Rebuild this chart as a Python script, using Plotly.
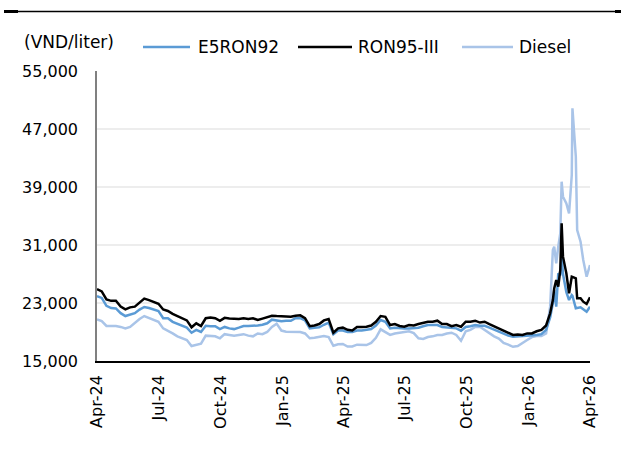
import pandas as pd
import plotly.graph_objects as go

# ---- data (VND/liter) ----
weekly_start = "2024-04-01"
weekly_count = 96
spike_dates = ["2026-02-01", "2026-02-05", "2026-02-07", "2026-02-10", "2026-02-13",
               "2026-02-16", "2026-02-18", "2026-02-20", "2026-02-25", "2026-03-01",
               "2026-03-05", "2026-03-06", "2026-03-11", "2026-03-13", "2026-03-18",
               "2026-03-22", "2026-03-27", "2026-04-01"]

e5ron92_weekly = [23950, 23700, 22600, 22300, 22250, 21600, 21200, 21400, 21600, 22100,
                  22450, 22300, 22100, 21900, 20900, 20900, 20400, 20100, 19900, 19600,
                  18900, 19300, 19000, 19850, 19800, 19800, 19400, 19700, 19500, 19400,
                  19600, 19830, 19830, 19830, 19900, 20000, 20200, 20700, 20600, 20500,
                  20550, 20550, 20900, 20900, 20600, 19500, 19600, 19650, 20000, 20300,
                  18700, 19200, 19200, 19000, 19000, 19200, 19200, 19300, 19400, 19900,
                  20650, 20400, 19500, 19600, 19500, 19500, 19500, 19550, 19600, 19800,
                  19960, 19950, 19960, 19700, 19600, 19500, 19500, 19180, 19700, 19800,
                  19960, 19850, 19850, 19600, 19300, 19000, 18800, 18500, 18350, 18400,
                  18350, 18450, 18500, 18600, 18700, 19300]
ron95_weekly = [24900, 24600, 23500, 23300, 23300, 22500, 22130, 22400, 22500, 23100,
                23600, 23400, 23200, 22900, 22100, 21900, 21500, 21200, 21000, 20600,
                19650, 20200, 19830, 20900, 21000, 20900, 20550, 20950, 20850, 20800,
                20800, 20900, 20800, 20900, 20650, 20850, 21000, 21250, 21200, 21150,
                21100, 21100, 21250, 21300, 20900, 19800, 19900, 20100, 20600, 20800,
                18900, 19500, 19600, 19300, 19200, 19700, 19700, 19730, 19900, 20400,
                21200, 21100, 19960, 20100, 19830, 19730, 19960, 19900, 20100, 20300,
                20420, 20420, 20560, 20100, 20100, 19800, 19960, 19730, 20420, 20420,
                20560, 20300, 20420, 20100, 19800, 19500, 19180, 18810, 18590, 18650,
                18590, 18810, 18800, 19100, 19300, 19900]
diesel_weekly = [20750, 20500, 19830, 19830, 19830, 19700, 19500, 19700, 20300, 20800,
                 21200, 20900, 20700, 20400, 19500, 19200, 18800, 18400, 18200, 17900,
                 17070, 17200, 17400, 18500, 18400, 18400, 18130, 18700, 18600, 18500,
                 18600, 18700, 18500, 18400, 18800, 18700, 19000, 19700, 20150, 19200,
                 19050, 19050, 19050, 19000, 18800, 18130, 18200, 18300, 18450, 18300,
                 17100, 17300, 17350, 17000, 17000, 17250, 17250, 17200, 17500, 18200,
                 19370, 19000, 18600, 18800, 18900, 19000, 19100, 18850, 18130, 18050,
                 18300, 18400, 18590, 18590, 18800, 18900, 18600, 17800, 19100, 19300,
                 19700, 19730, 19300, 18800, 18400, 18100, 17500, 17250, 16960, 17070,
                 17440, 17900, 18300, 18450, 18450, 18800]

e5ron92_spike = [21000, 23000, 24800, 22490, 27090, 26800, 29500, 27000, 24500, 23410,
                 24100, 24000, 22270, 22300, 22400, 22130, 21800, 22490]
ron95_spike = [21580, 23400, 25000, 26170, 25250, 27550, 34000, 29390, 27090, 24340,
               26630, 26600, 26400, 23650, 23650, 23180, 22860, 23790]
diesel_spike = [22500, 30310, 30770, 28470, 30770, 32610, 39730, 37660, 36740, 35360,
                40650, 49850, 43170, 33070, 31460, 28930, 26630, 28240]

series_names = ["E5RON92", "RON95-III", "Diesel"]
series_colors = ["#5B9BD5", "#000000", "#A9C4E8"]
y_ticks = [15000, 23000, 31000, 39000, 47000, 55000]
unit_label = "(VND/liter)"
title_text = "Figure 3: Weekly domestic gasoline prices"

# ---- build ----
dates = list(pd.date_range(weekly_start, periods=weekly_count, freq="7D")) + list(pd.to_datetime(spike_dates))
series_values = [e5ron92_weekly + e5ron92_spike,
                 ron95_weekly + ron95_spike,
                 diesel_weekly + diesel_spike]

FONT = "Tahoma, 'DejaVu Sans', sans-serif"

W, H = 621, 450
L, R, T, B = 97, 31, 71, 89
pw, ph = W - L - R, H - T - B

def px_x(x):
    return (x - L) / pw

def px_y(y):
    return 1 + (T - y) / ph

fig = go.Figure()
# draw order: diesel at back, then E5, black on top
for idx in [2, 0, 1]:
    fig.add_trace(go.Scatter(
        x=dates, y=series_values[idx], mode="lines", name=series_names[idx],
        line=dict(color=series_colors[idx], width=2.5), showlegend=False,
    ))

# manual legend (line sample + label) placed above the plot
legend_line_px = [(143, 190), (298, 352), (462, 513)]
legend_text_px = [196, 356, 517]
legend_y_px = 47

shapes = []
annotations = []
for i, name in enumerate(series_names):
    x0, x1 = legend_line_px[i]
    shapes.append(dict(type="line", xref="paper", yref="paper",
                       x0=px_x(x0), x1=px_x(x1), y0=px_y(legend_y_px), y1=px_y(legend_y_px),
                       line=dict(color=series_colors[i], width=2.5)))
    annotations.append(dict(text=name, xref="paper", yref="paper",
                            x=px_x(legend_text_px[i]), y=px_y(legend_y_px),
                            xanchor="left", yanchor="middle", showarrow=False,
                            font=dict(size=17)))

annotations.append(dict(text=unit_label, xref="paper", yref="paper", x=px_x(22), y=px_y(42),
                        xanchor="left", yanchor="middle", showarrow=False, font=dict(size=17)))
annotations.append(dict(text="<b>" + title_text + "</b>", xref="paper", yref="paper",
                        x=px_x(6), y=px_y(1), xanchor="left", yanchor="bottom", showarrow=False,
                        font=dict(size=20)))

shapes += [
    dict(type="line", xref="paper", yref="paper", x0=px_x(4), x1=px_x(621),
         y0=px_y(11.5), y1=px_y(11.5), line=dict(color="#000000", width=1.5)),
    dict(type="line", xref="paper", yref="paper", x0=px_x(4), x1=px_x(18),
         y0=px_y(11.5), y1=px_y(11.5), line=dict(color="#000000", width=3)),
    dict(type="line", xref="paper", yref="paper", x0=px_x(615), x1=px_x(621),
         y0=px_y(11.5), y1=px_y(11.5), line=dict(color="#000000", width=3)),
]

fig.update_layout(
    width=W, height=H,
    margin=dict(l=L, r=R, t=T, b=B),
    paper_bgcolor="white", plot_bgcolor="white",
    font=dict(family=FONT, size=16, color="#000000"),
    showlegend=False,
    xaxis=dict(
        type="date",
        range=["2024-04-01", "2026-04-01"],
        tickvals=pd.date_range("2024-04-01", "2026-04-01", freq="3MS"),
        tickformat="%b-%y",
        tickangle=-90,
        showgrid=False,
        showline=True, linecolor="#000000", linewidth=1.5,
        ticks="", ticklabelstandoff=6,
        tickfont=dict(size=16),
        zeroline=False,
    ),
    yaxis=dict(
        range=[15000, 55000],
        tickvals=y_ticks,
        tickformat=",d",
        showgrid=True, gridcolor="#EDEDED", gridwidth=1.5,
        showline=True, linecolor="#808080", linewidth=1.5,
        ticks="", ticklabelstandoff=14,
        tickfont=dict(size=16),
        zeroline=False,
    ),
    annotations=annotations,
    shapes=shapes,
)

fig.write_html(
    "out.html",
    config={"displayModeBar": False},
    post_script="document.body.style.margin='0';document.body.style.overflow='hidden';",
)
